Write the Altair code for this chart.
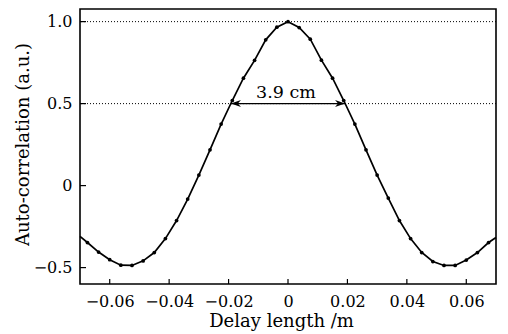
import altair as alt
import pandas as pd

# Sampled points (markers)
delay = [-0.0675, -0.06375, -0.06, -0.05625, -0.0525, -0.04875, -0.045, -0.04125,
         -0.0375, -0.03375, -0.03, -0.02625, -0.0225, -0.01875, -0.015, -0.01125,
         -0.0075, -0.00375, 0.0, 0.00375, 0.0075, 0.01125, 0.015, 0.01875, 0.0225,
         0.02625, 0.03, 0.03375, 0.0375, 0.04125, 0.045, 0.04875, 0.0525, 0.05625,
         0.06, 0.06375, 0.0675]
autocorr = [-0.347, -0.405, -0.452, -0.485, -0.487, -0.459, -0.408, -0.323,
            -0.213, -0.082, 0.064, 0.218, 0.375, 0.519, 0.655, 0.764,
            0.889, 0.966, 1.0, 0.964, 0.893, 0.765, 0.655, 0.519, 0.375,
            0.218, 0.064, -0.076, -0.213, -0.323, -0.408, -0.463, -0.487, -0.487,
            -0.454, -0.408, -0.347]
# curve continues to the frame edges
edge_delay = [-0.07, 0.07]
edge_value = [-0.31, -0.316]

x_ticks = [-0.06, -0.04, -0.02, 0.0, 0.02, 0.04, 0.06]
y_ticks = [-0.5, 0.0, 0.5, 1.0]
ref_lines = [1.0, 0.5]
fwhm_left, fwhm_right, fwhm_level = -0.0192, 0.0192, 0.5
fwhm_label = "3.9 cm"

W, H = 416, 275
FONT = "DejaVu Serif"

xs = alt.Scale(domain=[-0.07, 0.07], nice=False, zero=False)
ys = alt.Scale(domain=[-0.6, 1.077], nice=False, zero=False)

pts = pd.DataFrame({"x": delay, "y": autocorr})
line_df = pd.DataFrame({"x": [edge_delay[0]] + delay + [edge_delay[1]],
                        "y": [edge_value[0]] + autocorr + [edge_value[1]]})

x_axis = alt.Axis(values=x_ticks, title="Delay length /m",
                  labelExpr="datum.value == 0 ? '0' : replace(format(datum.value, '.2f'), '-', '\u2212')",
                  ticks=False, domain=False, grid=False, labelPadding=9,
                  labelFont=FONT, labelFontSize=16, labelColor="black",
                  titleFont=FONT, titleFontSize=18, titleFontWeight="normal", titleColor="black",
                  titleBaseline="alphabetic", titleY=42, titleX=201, titleAnchor="middle")
y_axis = alt.Axis(values=y_ticks, title="Auto-correlation (a.u.)",
                  labelExpr="datum.value == 0 ? '0' : replace(format(datum.value, '.1f'), '-', '\u2212')",
                  ticks=False, domain=False, grid=False, labelPadding=8,
                  labelFont=FONT, labelFontSize=16, labelColor="black",
                  titleFont=FONT, titleFontSize=18, titleFontWeight="normal", titleColor="black",
                  titleAngle=270, titleBaseline="alphabetic", titleX=-52, titleY=135, titleAnchor="middle")


def X(f="x"):
    return alt.X(f"{f}:Q", scale=xs, axis=x_axis)


def Y(f="y"):
    return alt.Y(f"{f}:Q", scale=ys, axis=y_axis)


dotted = alt.Chart(pd.DataFrame({"y": ref_lines})).mark_rule(
    strokeDash=[1, 2], color="black", strokeWidth=1).encode(y=Y())

arrow_line = alt.Chart(pd.DataFrame({"x": [fwhm_left], "x2": [fwhm_right], "y": [fwhm_level]})).mark_rule(
    color="black", strokeWidth=1.4).encode(x=X(), x2="x2:Q", y=Y())

head_left = alt.Chart(pd.DataFrame({"x": [fwhm_left], "y": [fwhm_level]})).mark_point(
    shape="M0,0 L2,-0.7 L1.4,0 L2,0.7 Z", size=100, filled=True, fill="black", opacity=1,
    strokeWidth=0).encode(x=X(), y=Y())
head_right = alt.Chart(pd.DataFrame({"x": [fwhm_right], "y": [fwhm_level]})).mark_point(
    shape="M0,0 L-2,-0.7 L-1.4,0 L-2,0.7 Z", size=100, filled=True, fill="black", opacity=1,
    strokeWidth=0).encode(x=X(), y=Y())

curve = alt.Chart(line_df).mark_line(color="black", strokeWidth=1.7).encode(
    x=X(), y=Y(), order="x:Q")

markers = alt.Chart(pts).mark_circle(color="black", size=14, opacity=1).encode(x=X(), y=Y())

label = alt.Chart(pd.DataFrame({"x": [0.0], "y": [fwhm_level], "t": [fwhm_label]})).mark_text(
    font=FONT, fontSize=17.5, color="black", baseline="alphabetic", align="center", dy=-6, dx=-2).encode(
    x=X(), y=Y(), text="t:N")

xt = alt.Chart(pd.DataFrame({"x": x_ticks})).mark_rule(color="black", strokeWidth=1.2).encode(
    x=X(), y=alt.value(H), y2=alt.value(H - 5))
yt = alt.Chart(pd.DataFrame({"y": y_ticks})).mark_rule(color="black", strokeWidth=1.2).encode(
    y=Y(), x=alt.value(0), x2=alt.value(6))

chart = alt.layer(dotted, arrow_line, head_left, head_right, curve, markers, label, xt, yt).properties(
    width=W, height=H,
    autosize=alt.AutoSizeParams(type="none"),
    padding={"left": 72, "top": 1, "right": 4, "bottom": 48},
    background="white",
).configure_view(stroke="black", strokeWidth=1.6)

chart.save("out.html", embed_options={"renderer": "svg", "actions": False})
